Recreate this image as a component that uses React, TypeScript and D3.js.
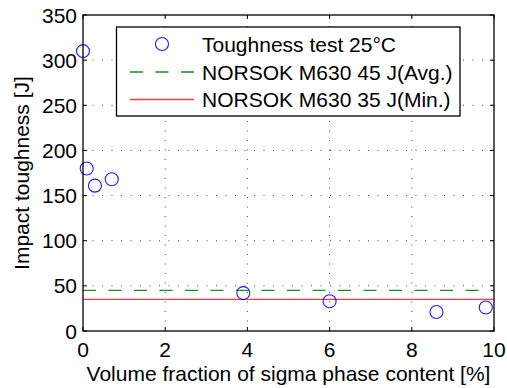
import React from "react";
import * as d3 from "d3";

// Sigma phase content (%) and measured impact toughness (J)
const sigmaContent = [0, 0.09, 0.29, 0.7, 3.9, 6.0, 8.6, 9.8];
const toughness = [310, 180, 161, 168, 42, 33, 21, 26];

const xTicks = [0, 2, 4, 6, 8, 10];
const yTicks = [0, 50, 100, 150, 200, 250, 300, 350];

const avgRequirement = 45;
const minRequirement = 35;

const legendLabels = [
  "Toughness test 25\u00B0C",
  "NORSOK M630 45 J(Avg.)",
  "NORSOK M630 35 J(Min.)",
];

const W = 507;
const H = 388;
const plot = { left: 83, right: 494, top: 15, bottom: 331 };
const FONT = "'Liberation Sans', Arial, Helvetica, sans-serif";
const FS = 21;

export default function App() {
  const x = d3.scaleLinear().domain([0, 10]).range([plot.left, plot.right]);
  const y = d3.scaleLinear().domain([0, 350]).range([plot.bottom, plot.top]);

  const hLine = (v: number) =>
    d3.line<number>().x((d) => x(d)).y(() => y(v))([0, 10]) || "";

  const tickLen = 4;
  const legend = { x0: 116.5, y0: 27, x1: 460, y1: 116 };
  const rowY = [44, 72, 99.5];
  const symX0 = 130;
  const symX1 = 194;
  const textX = 202;

  return (
    <svg
      width={W}
      height={H}
      style={{ position: "fixed", left: 0, top: 0, background: "#fff" }}
      fontFamily={FONT}
      fontSize={FS}
    >
      <rect x={0} y={0} width={W} height={H} fill="#fff" />

      {/* dotted grid */}
      <g stroke="#444" strokeWidth={1} strokeDasharray="1,8.5">
        {xTicks.slice(1, -1).map((t) => (
          <line key={"gx" + t} x1={x(t)} x2={x(t)} y1={plot.bottom} y2={plot.top} />
        ))}
        {yTicks.slice(1, -1).map((t) => (
          <line key={"gy" + t} x1={plot.left} x2={plot.right} y1={y(t)} y2={y(t)} />
        ))}
      </g>

      {/* requirement lines */}
      <path d={hLine(avgRequirement)} stroke="#1a8f1a" strokeWidth={1.3} strokeDasharray="13,12.5" fill="none" />
      <path d={hLine(minRequirement)} stroke="#ff3b3b" strokeWidth={1.3} fill="none" />

      {/* measurements */}
      <g fill="none" stroke="#1a1aff" strokeWidth={1.1}>
        {sigmaContent.map((v, i) => (
          <circle key={i} cx={x(v)} cy={y(toughness[i])} r={6.5} />
        ))}
      </g>

      {/* axes box and inward ticks */}
      <rect
        x={plot.left}
        y={plot.top}
        width={plot.right - plot.left}
        height={plot.bottom - plot.top}
        fill="none"
        stroke="#000"
        strokeWidth={1.3}
      />
      <g stroke="#000" strokeWidth={1}>
        {xTicks.map((t) => (
          <g key={"tx" + t}>
            <line x1={x(t)} x2={x(t)} y1={plot.bottom} y2={plot.bottom - tickLen} />
            <line x1={x(t)} x2={x(t)} y1={plot.top} y2={plot.top + tickLen} />
          </g>
        ))}
        {yTicks.map((t) => (
          <g key={"ty" + t}>
            <line x1={plot.left} x2={plot.left + tickLen} y1={y(t)} y2={y(t)} />
            <line x1={plot.right} x2={plot.right - tickLen} y1={y(t)} y2={y(t)} />
          </g>
        ))}
      </g>

      {/* tick labels */}
      <g fill="#000">
        {xTicks.map((t) => (
          <text key={"lx" + t} x={x(t)} y={357} textAnchor="middle">
            {t}
          </text>
        ))}
        {yTicks.map((t) => (
          <text key={"ly" + t} x={77} y={y(t) + 7.5} textAnchor="end">
            {t}
          </text>
        ))}
      </g>

      {/* axis titles */}
      <text x={(plot.left + plot.right) / 2} y={380.5} textAnchor="middle" fill="#000">
        Volume fraction of sigma phase content [%]
      </text>
      <text
        transform={`translate(29,${(plot.top + plot.bottom) / 2}) rotate(-90)`}
        textAnchor="middle"
        fill="#000"
      >
        Impact toughness [J]
      </text>

      {/* legend */}
      <rect
        x={legend.x0}
        y={legend.y0}
        width={legend.x1 - legend.x0}
        height={legend.y1 - legend.y0}
        fill="#fff"
        stroke="#000"
        strokeWidth={1.3}
      />
      <circle cx={(symX0 + symX1) / 2} cy={rowY[0]} r={6.5} fill="none" stroke="#1a1aff" strokeWidth={1.1} />
      <line x1={symX0} x2={symX1} y1={rowY[1]} y2={rowY[1]} stroke="#1a8f1a" strokeWidth={1.3} strokeDasharray="13,12.5" />
      <line x1={symX0} x2={symX1} y1={rowY[2]} y2={rowY[2]} stroke="#ff3b3b" strokeWidth={1.3} />
      {legendLabels.map((s, i) => (
        <text key={s} x={textX} y={rowY[i] + 7.5} fill="#000">
          {s}
        </text>
      ))}
    </svg>
  );
}
